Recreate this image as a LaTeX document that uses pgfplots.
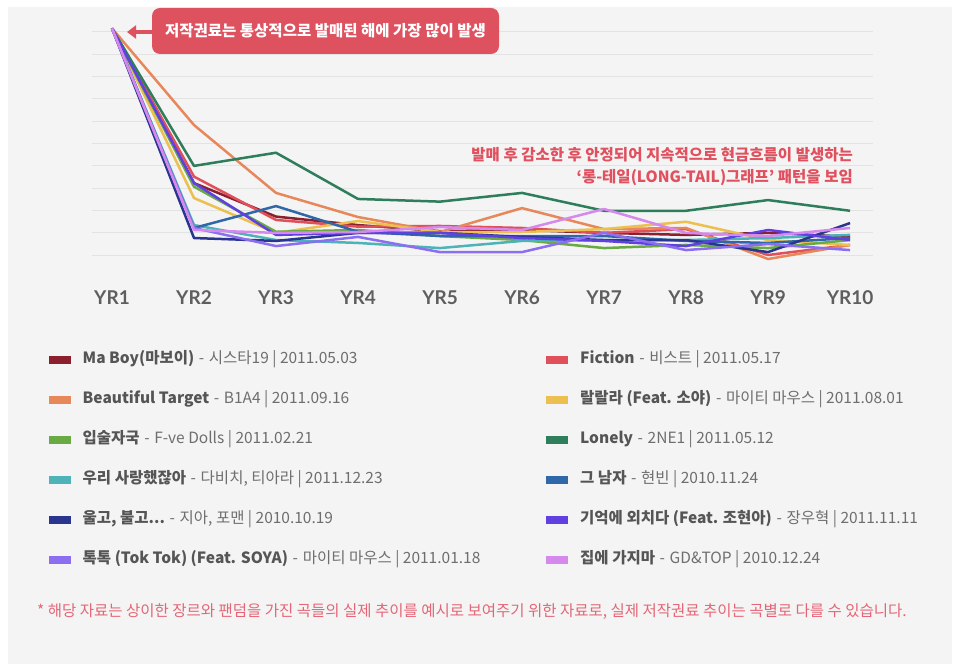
\documentclass[border=0pt]{standalone}
\usepackage{fontspec}
\setmainfont{Noto Sans CJK KR}
\newfontfamily\lato{Lato}
\usepackage{pgfplots}
\pgfplotsset{compat=1.18}
\usetikzlibrary{arrows.meta}
\definecolor{panel}{HTML}{F4F4F4}
\definecolor{gridc}{HTML}{E3E3E3}
\definecolor{tickc}{HTML}{5E5E5E}
\definecolor{legb}{HTML}{555555}
\definecolor{legr}{HTML}{6E6E6E}
\definecolor{callout}{HTML}{DE5260}
\definecolor{redtext}{HTML}{E0505E}
\definecolor{foot}{HTML}{E46676}
\definecolor{cMaBoy}{HTML}{8B1F2E}
\definecolor{cFiction}{HTML}{E0505A}
\definecolor{cBeautiful}{HTML}{E8875A}
\definecolor{cLalala}{HTML}{ECC050}
\definecolor{cLips}{HTML}{6AAA45}
\definecolor{cLonely}{HTML}{2E7D5B}
\definecolor{cUri}{HTML}{4DB3B8}
\definecolor{cMan}{HTML}{2F67A8}
\definecolor{cUlgo}{HTML}{2A3590}
\definecolor{cGiuk}{HTML}{6040E0}
\definecolor{cToktok}{HTML}{8C6FF0}
\definecolor{cJibe}{HTML}{D589EC}
\newcommand{\lefte}[2]{\makebox[452pt][l]{\textcolor{legb}{\bfseries #1}\hspace{0.3em}\textcolor{legr}{-\hspace{0.3em}#2}}}
\newcommand{\righte}[2]{\textcolor{legb}{\bfseries #1}\hspace{0.3em}\textcolor{legr}{-\hspace{0.3em}#2}}
\begin{document}
\begin{tikzpicture}[x=1pt,y=1pt]
\useasboundingbox (0,0) rectangle (958,664);
\fill[panel] (8,0) rectangle (952,657);
\begin{axis}[
  at={(92pt,409pt)}, anchor=south west,
  scale only axis, width=781pt, height=223.3pt,
  xmin=0.756, xmax=10.28, ymin=0, ymax=10,
  clip=false,
  axis line style={draw=none},
  major tick length=0pt,
  ytick={0,1,...,10}, yticklabels={},
  ymajorgrids, grid style={gridc, line width=1pt},
  xtick={1,...,10},
  xticklabels={YR1,YR2,YR3,YR4,YR5,YR6,YR7,YR8,YR9,YR10},
  xticklabel style={font=\lato\bfseries\fontsize{19}{19}\selectfont, text=tickc, anchor=center, yshift=-43pt},
  every axis plot/.append style={line width=2.5pt, mark=none, line join=round},
  legend columns=2,
  legend cell align=left,
  legend style={draw=none, fill=none, at={(axis description cs:-0.0602,-0.434)}, anchor=north west,
    inner sep=0pt, column sep=8pt, row sep=24pt,
    font=\fontsize{15.5}{15.5}\selectfont,
    nodes={inner sep=0pt, text height=11.5pt, text depth=4.5pt}},
  legend image code/.code={\draw[line width=7.5pt] (0pt,0pt) -- (22pt,0pt);},
]
\addplot[color=cMaBoy] coordinates {(1,10.15)(2,3.22)(3,1.72)(4,1.34)(5,1.07)(6,1.12)(7,0.99)(8,0.90)(9,0.99)(10,0.82)};
\addlegendentry{\lefte{Ma Boy(마보이)}{시스타19 | 2011.05.03}}
\addplot[color=cFiction] coordinates {(1,10.15)(2,3.51)(3,1.57)(4,1.27)(5,1.30)(6,1.21)(7,0.99)(8,1.16)(9,0.00)(10,0.45)};
\addlegendentry{\righte{Fiction}{비스트 | 2011.05.17}}
\addplot[color=cBeautiful] coordinates {(1,10.15)(2,5.82)(3,2.78)(4,1.70)(5,1.03)(6,2.10)(7,1.16)(8,1.21)(9,-0.18)(10,0.45)};
\addlegendentry{\lefte{Beautiful Target}{B1A4 | 2011.09.16}}
\addplot[color=cLalala] coordinates {(1,10.15)(2,2.55)(3,0.99)(4,1.52)(5,1.03)(6,1.03)(7,1.16)(8,1.49)(9,0.67)(10,0.45)};
\addlegendentry{\righte{랄랄라 (Feat. 소야)}{마이티 마우스 | 2011.08.01}}
\addplot[color=cLips] coordinates {(1,10.15)(2,3.06)(3,1.04)(4,1.12)(5,0.85)(6,0.67)(7,0.31)(8,0.45)(9,0.31)(10,0.67)};
\addlegendentry{\lefte{입술자국}{F-ve Dolls | 2011.02.21}}
\addplot[color=cLonely] coordinates {(1,10.15)(2,3.99)(3,4.58)(4,2.51)(5,2.39)(6,2.78)(7,1.98)(8,1.98)(9,2.46)(10,1.98)};
\addlegendentry{\righte{Lonely}{2NE1 | 2011.05.12}}
\addplot[color=cUri] coordinates {(1,10.15)(2,1.34)(3,0.67)(4,0.54)(5,0.31)(6,0.63)(7,0.67)(8,0.67)(9,0.76)(10,0.90)};
\addlegendentry{\lefte{우리 사랑했잖아}{다비치, 티아라 | 2011.12.23}}
\addplot[color=cMan] coordinates {(1,10.15)(2,1.21)(3,2.19)(4,1.04)(5,0.85)(6,0.85)(7,0.85)(8,0.63)(9,0.54)(10,0.76)};
\addlegendentry{\righte{그 남자}{현빈 | 2010.11.24}}
\addplot[color=cUlgo] coordinates {(1,10.15)(2,0.76)(3,0.63)(4,0.99)(5,0.99)(6,0.81)(7,0.67)(8,0.67)(9,0.13)(10,1.43)};
\addlegendentry{\lefte{울고, 불고...}{지아, 포맨 | 2010.10.19}}
\addplot[color=cGiuk] coordinates {(1,10.15)(2,3.22)(3,0.90)(4,0.99)(5,0.99)(6,0.76)(7,0.63)(8,0.40)(9,1.12)(10,0.67)};
\addlegendentry{\righte{기억에 외치다 (Feat. 조현아)}{장우혁 | 2011.11.11}}
\addplot[color=cToktok] coordinates {(1,10.15)(2,1.21)(3,0.40)(4,0.81)(5,0.13)(6,0.13)(7,0.99)(8,0.22)(9,0.49)(10,0.22)};
\addlegendentry{\lefte{톡톡 (Tok Tok) (Feat. SOYA)}{마이티 마우스 | 2011.01.18}}
\addplot[color=cJibe] coordinates {(1,10.15)(2,1.12)(3,0.99)(4,1.03)(5,1.25)(6,1.12)(7,2.06)(8,0.99)(9,0.85)(10,1.21)};
\addlegendentry{\righte{집에 가지마}{GD\&TOP | 2010.12.24}}
\end{axis}
% callout 1
\fill[callout, rounded corners=8pt] (152,656) rectangle (499,610);
\node[text=white, font=\bfseries\fontsize{15.5}{15.5}\selectfont, inner sep=0pt] at (325.5,633) {저작권료는 통상적으로 발매된 해에 가장 많이 발생};
\draw[callout, line width=4pt, -{Triangle[length=9pt,width=13pt]}] (152,632) -- (127,632);
% annotation 2
\node[text=redtext, font=\bfseries\fontsize{15.5}{15.5}\selectfont, inner sep=0pt, anchor=east] at (853,509) {발매 후 감소한 후 안정되어 지속적으로 현금흐름이 발생하는};
\node[text=redtext, font=\bfseries\fontsize{15.5}{15.5}\selectfont, inner sep=0pt, anchor=east] at (853,486) {‘롱-테일(LONG-TAIL)그래프’ 패턴을 보임};
% footnote
\node[text=foot, font=\fontsize{15.5}{15.5}\selectfont, inner sep=0pt, anchor=west] at (37,52) {* 해당 자료는 상이한 장르와 팬덤을 가진 곡들의 실제 추이를 예시로 보여주기 위한 자료로, 실제 저작권료 추이는 곡별로 다를 수 있습니다.};
\end{tikzpicture}
\end{document}
